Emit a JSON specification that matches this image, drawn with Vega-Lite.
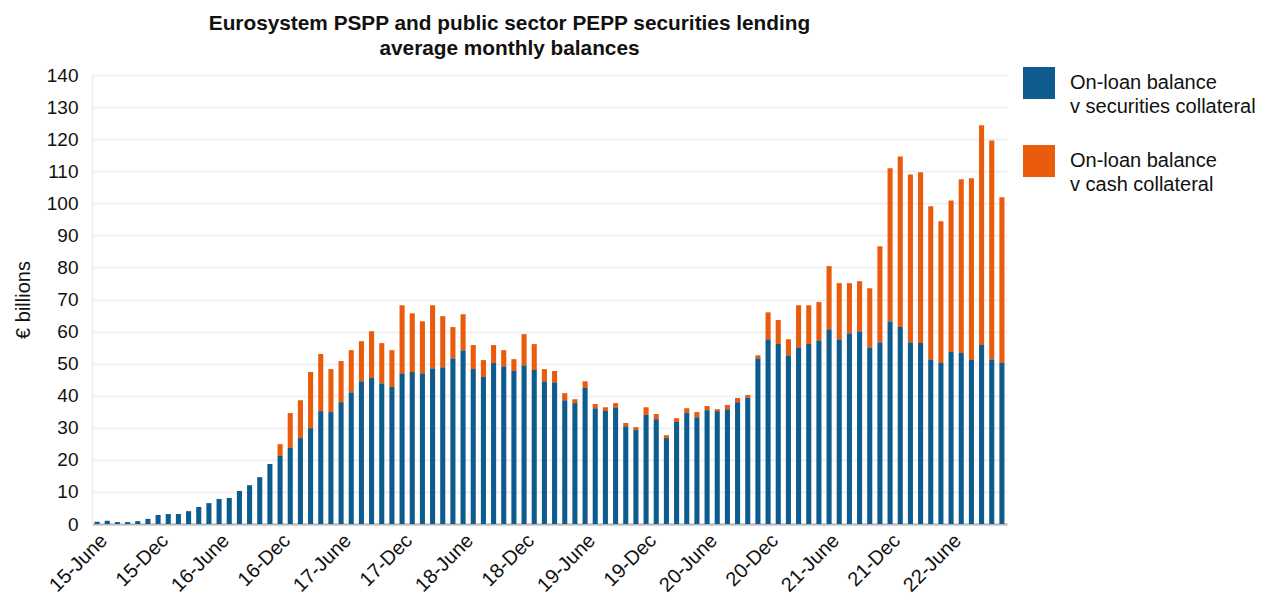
{
  "$schema": "https://vega.github.io/schema/vega-lite/v6.json",
  "width": 915,
  "height": 449,
  "autosize": {"type": "none"},
  "padding": {"left": 92, "top": 75, "right": 267, "bottom": 71},
  "background": "white",
  "title": {
    "text": ["Eurosystem PSPP and public sector PEPP securities lending", "average monthly balances"],
    "fontSize": 20.8,
    "fontWeight": "bold",
    "color": "#111111",
    "anchor": "middle",
    "dx": -40,
    "offset": 6,
    "lineHeight": 25
  },
  "data": {
    "values": [
      {"m": "15-June", "s": 0.7, "c": 0},
      {"m": "15-Jul", "s": 1.0, "c": 0},
      {"m": "15-Aug", "s": 0.6, "c": 0},
      {"m": "15-Sep", "s": 0.6, "c": 0},
      {"m": "15-Oct", "s": 0.9, "c": 0},
      {"m": "15-Nov", "s": 1.6, "c": 0},
      {"m": "15-Dec", "s": 2.8, "c": 0},
      {"m": "16-Jan", "s": 3.1, "c": 0},
      {"m": "16-Feb", "s": 3.1, "c": 0},
      {"m": "16-Mar", "s": 4.0, "c": 0},
      {"m": "16-Apr", "s": 5.3, "c": 0},
      {"m": "16-May", "s": 6.5, "c": 0},
      {"m": "16-June", "s": 7.8, "c": 0},
      {"m": "16-Jul", "s": 8.1, "c": 0},
      {"m": "16-Aug", "s": 10.3, "c": 0},
      {"m": "16-Sep", "s": 12.1, "c": 0},
      {"m": "16-Oct", "s": 14.6, "c": 0},
      {"m": "16-Nov", "s": 18.7, "c": 0},
      {"m": "16-Dec", "s": 21.2, "c": 3.7},
      {"m": "17-Jan", "s": 23.7, "c": 10.9},
      {"m": "17-Feb", "s": 26.8, "c": 11.8},
      {"m": "17-Mar", "s": 29.9, "c": 17.5},
      {"m": "17-Apr", "s": 35.2, "c": 17.8},
      {"m": "17-May", "s": 34.9, "c": 13.4},
      {"m": "17-June", "s": 38.0, "c": 12.8},
      {"m": "17-Jul", "s": 41.1, "c": 13.1},
      {"m": "17-Aug", "s": 44.5, "c": 12.5},
      {"m": "17-Sep", "s": 45.5, "c": 14.6},
      {"m": "17-Oct", "s": 43.9, "c": 12.5},
      {"m": "17-Nov", "s": 42.7, "c": 11.5},
      {"m": "17-Dec", "s": 47.0, "c": 21.2},
      {"m": "18-Jan", "s": 47.4, "c": 18.3},
      {"m": "18-Feb", "s": 47.0, "c": 16.2},
      {"m": "18-Mar", "s": 48.6, "c": 19.6},
      {"m": "18-Apr", "s": 48.9, "c": 15.9},
      {"m": "18-May", "s": 51.7, "c": 9.7},
      {"m": "18-June", "s": 54.2, "c": 11.2},
      {"m": "18-Jul", "s": 48.3, "c": 7.5},
      {"m": "18-Aug", "s": 45.8, "c": 5.3},
      {"m": "18-Sep", "s": 50.2, "c": 5.6},
      {"m": "18-Oct", "s": 49.2, "c": 5.0},
      {"m": "18-Nov", "s": 47.7, "c": 3.7},
      {"m": "18-Dec", "s": 49.5, "c": 9.7},
      {"m": "19-Jan", "s": 48.0, "c": 8.1},
      {"m": "19-Feb", "s": 44.5, "c": 3.8},
      {"m": "19-Mar", "s": 44.2, "c": 3.5},
      {"m": "19-Apr", "s": 38.6, "c": 2.2},
      {"m": "19-May", "s": 37.7, "c": 1.2},
      {"m": "19-June", "s": 42.4, "c": 2.1},
      {"m": "19-Jul", "s": 36.1, "c": 1.3},
      {"m": "19-Aug", "s": 35.2, "c": 1.2},
      {"m": "19-Sep", "s": 36.4, "c": 1.3},
      {"m": "19-Oct", "s": 30.5, "c": 1.0},
      {"m": "19-Nov", "s": 29.3, "c": 0.9},
      {"m": "19-Dec", "s": 34.0, "c": 2.4},
      {"m": "20-Jan", "s": 32.7, "c": 1.6},
      {"m": "20-Feb", "s": 26.8, "c": 0.9},
      {"m": "20-Mar", "s": 31.8, "c": 1.2},
      {"m": "20-Apr", "s": 34.6, "c": 1.5},
      {"m": "20-May", "s": 33.3, "c": 1.6},
      {"m": "20-June", "s": 35.5, "c": 1.3},
      {"m": "20-Jul", "s": 35.2, "c": 0.6},
      {"m": "20-Aug", "s": 35.8, "c": 1.3},
      {"m": "20-Sep", "s": 38.0, "c": 1.3},
      {"m": "20-Oct", "s": 39.3, "c": 0.9},
      {"m": "20-Nov", "s": 51.7, "c": 0.9},
      {"m": "20-Dec", "s": 57.6, "c": 8.4},
      {"m": "21-Jan", "s": 56.1, "c": 7.5},
      {"m": "21-Feb", "s": 52.6, "c": 5.0},
      {"m": "21-Mar", "s": 55.1, "c": 13.1},
      {"m": "21-Apr", "s": 56.1, "c": 12.1},
      {"m": "21-May", "s": 57.3, "c": 11.9},
      {"m": "21-June", "s": 60.7, "c": 19.7},
      {"m": "21-Jul", "s": 57.6, "c": 17.5},
      {"m": "21-Aug", "s": 59.5, "c": 15.6},
      {"m": "21-Sep", "s": 60.1, "c": 15.6},
      {"m": "21-Oct", "s": 55.1, "c": 18.4},
      {"m": "21-Nov", "s": 56.7, "c": 29.9},
      {"m": "21-Dec", "s": 63.2, "c": 47.7},
      {"m": "22-Jan", "s": 61.4, "c": 53.2},
      {"m": "22-Feb", "s": 56.7, "c": 52.3},
      {"m": "22-Mar", "s": 56.4, "c": 53.3},
      {"m": "22-Apr", "s": 51.4, "c": 47.7},
      {"m": "22-May", "s": 50.2, "c": 44.2},
      {"m": "22-June", "s": 53.6, "c": 47.3},
      {"m": "22-Jul", "s": 53.3, "c": 54.2},
      {"m": "22-Aug", "s": 51.1, "c": 56.7},
      {"m": "22-Sep", "s": 55.8, "c": 68.5},
      {"m": "22-Oct", "s": 51.4, "c": 68.2},
      {"m": "22-Nov", "s": 50.2, "c": 51.7}
    ]
  },
  "transform": [{"fold": ["s", "c"], "as": ["series", "v"]}],
  "mark": {"type": "bar"},
  "encoding": {
    "x": {
      "field": "m",
      "type": "nominal",
      "sort": null,
      "scale": {"paddingInner": 0.5, "paddingOuter": 0.25},
      "axis": {
        "values": ["15-June", "15-Dec", "16-June", "16-Dec", "17-June", "17-Dec", "18-June", "18-Dec", "19-June", "19-Dec", "20-June", "20-Dec", "21-June", "21-Dec", "22-June"],
        "title": null,
        "labelAngle": -45,
        "labelAlign": "right",
        "labelBaseline": "top",
        "labelPadding": 6,
        "labelFontSize": 20,
        "labelColor": "#111111",
        "ticks": false,
        "grid": false,
        "domainColor": "#b4b8bd",
        "domainWidth": 2
      }
    },
    "y": {
      "field": "v",
      "type": "quantitative",
      "stack": "zero",
      "scale": {"domain": [0, 140], "nice": false},
      "axis": {
        "values": [0, 10, 20, 30, 40, 50, 60, 70, 80, 90, 100, 110, 120, 130, 140],
        "title": "€ billions",
        "titleFontSize": 20,
        "titleFontWeight": "normal",
        "titleColor": "#111111",
        "titlePadding": 13,
        "labelFontSize": 19,
        "labelColor": "#111111",
        "labelPadding": 14,
        "ticks": false,
        "gridColor": "#edf0f4",
        "gridWidth": 2,
        "domainColor": "#edf0f4",
        "domainWidth": 2
      }
    },
    "color": {
      "field": "series",
      "type": "nominal",
      "scale": {"domain": ["s", "c"], "range": ["#0e5c8e", "#ea5b0c"]},
      "legend": {
        "title": null,
        "orient": "none",
        "legendX": 931,
        "legendY": -8,
        "symbolType": "square",
        "symbolSize": 1024,
        "symbolStrokeWidth": 0,
        "symbolOpacity": 1,
        "labelFontSize": 20,
        "labelColor": "#111111",
        "labelOffset": 15,
        "labelLimit": 300,
        "rowPadding": 28,
        "labelExpr": "datum.label == 's' ? ['On-loan balance', 'v securities collateral'] : ['On-loan balance', 'v cash collateral']"
      }
    },
    "order": {"field": "series", "sort": "descending"}
  },
  "config": {
    "view": {"stroke": null},
    "font": "Liberation Sans",
    "style": {"guide-label": {"lineHeight": 24}}
  }
}
